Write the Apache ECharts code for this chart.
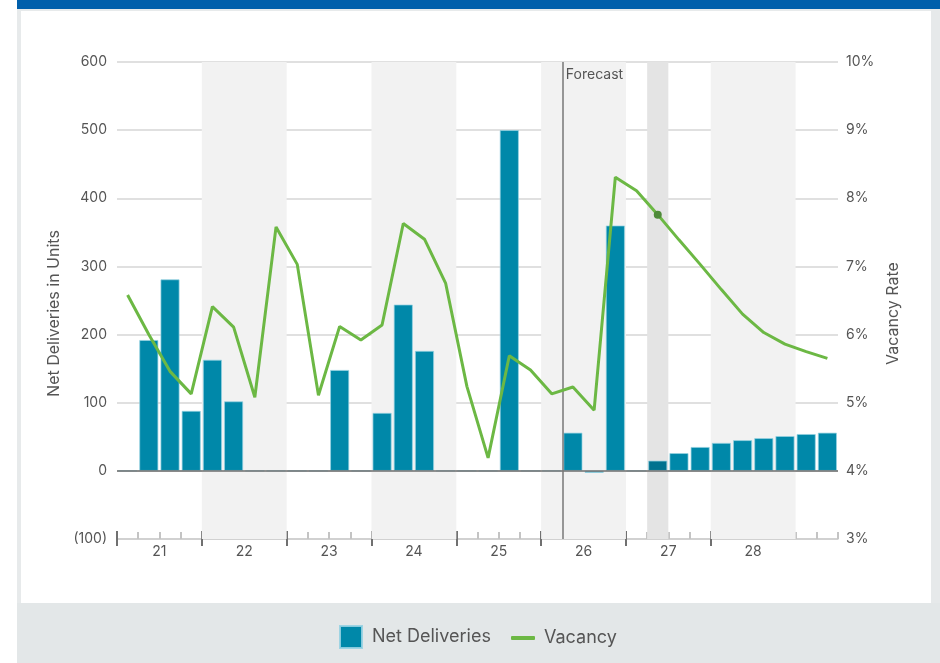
<!DOCTYPE html>
<html>
<head>
<meta charset="utf-8">
<script src="https://cdn.jsdelivr.net/npm/echarts@6/dist/echarts.min.js"></script>
<style>
  html, body { margin: 0; padding: 0; background: #ffffff; }
  #wrap { position: relative; width: 940px; height: 663px; overflow: hidden; }
  .deco { position: absolute; }
  #chart { position: absolute; left: 0; top: 0; width: 940px; height: 663px; }
</style>
</head>
<body>
<div id="wrap">
  <div class="deco" style="left:17px;top:0;width:923px;height:9px;background:#005fab;"></div>
  <div class="deco" style="left:17px;top:9px;width:923px;height:2px;background:#e7eaeb;"></div>
  <div class="deco" style="left:17px;top:9px;width:4px;height:594px;background:#e7eaeb;"></div>
  <div class="deco" style="left:931px;top:9px;width:9px;height:654px;background:#e6e9ea;"></div>
  <div class="deco" style="left:17px;top:603px;width:923px;height:60px;background:#e3e7e8;"></div>
  <div id="chart"></div>
</div>
<script>
// ---- data ----
const quarters = [
  '21 Q1','21 Q2','21 Q3','21 Q4',
  '22 Q1','22 Q2','22 Q3','22 Q4',
  '23 Q1','23 Q2','23 Q3','23 Q4',
  '24 Q1','24 Q2','24 Q3','24 Q4',
  '25 Q1','25 Q2','25 Q3','25 Q4',
  '26 Q1','26 Q2','26 Q3','26 Q4',
  '27 Q1','27 Q2','27 Q3','27 Q4',
  '28 Q1','28 Q2','28 Q3','28 Q4',
  '29 Q1','29 Q2'
];
const netDeliveries = [
  0, 192, 281, 88,
  163, 102, 0, 0,
  0, 0, 148, 0,
  85, 244, 176, 0,
  0, 0, 500, 0,
  0, 56, -3, 360,
  0, 15, 26, 35,
  41, 45, 48, 51,
  54, 56
];
const vacancy = [
  6.58, 6.00, 5.46, 5.13,
  6.41, 6.11, 5.08, 7.58,
  7.03, 5.11, 6.12, 5.92,
  6.14, 7.63, 7.40, 6.75,
  5.24, 4.19, 5.69, 5.48,
  5.13, 5.23, 4.89, 8.31,
  8.11, 7.76, 7.39, 7.03,
  6.66, 6.30, 6.03, 5.86,
  5.75, 5.65
];
const yearLabels = ['21','22','23','24','25','26','27','28'];
const shadedYears = ['22','24','26','28'];
const forecastStart = '26 Q2';
const currentQuarter = '27 Q2';
const leftTicks = [-100, 0, 100, 200, 300, 400, 500, 600];
const rightTicks = [3, 4, 5, 6, 7, 8, 9, 10];

// ---- derived ----
const nQ = quarters.length;
const firstIdxOfYear = y => quarters.findIndex(q => q.startsWith(y + ' '));
const yearBoundaries = yearLabels.map(firstIdxOfYear);
const yearCenters = yearLabels.map(y => firstIdxOfYear(y) + 2);
const forecastIdx = quarters.indexOf(forecastStart);
const currentIdx = quarters.indexOf(currentQuarter);
const leftMax = leftTicks[leftTicks.length - 1];

const FONT = 'Inter, Roboto, "Noto Sans", sans-serif';
const TXT = '#555555';
const BAR = '#0088a9';
const BAR_HI = '#00728f';
const GREEN = '#6cb844';

const bands = shadedYears.map(y => {
  const s = firstIdxOfYear(y);
  return [{ xAxis: s }, { xAxis: s + 4 }];
});
bands.push([{ xAxis: currentIdx, itemStyle: { color: '#e4e4e4' } }, { xAxis: currentIdx + 1 }]);

const chart = echarts.init(document.getElementById('chart'), null, { renderer: 'canvas' });
const option = {
  animation: false,
  textStyle: { fontFamily: FONT },
  grid: { left: 117, right: 102, top: 62, bottom: 124, containLabel: false },
  legend: [
    {
      data: [{ name: 'Net Deliveries', icon: 'rect' }],
      left: 339, top: 625, padding: 0,
      itemWidth: 22, itemHeight: 22,
      selectedMode: false,
      textStyle: { fontSize: 18, color: TXT, fontFamily: FONT, padding: [0, 0, 0, 5] }
    },
    {
      data: [{ name: 'Vacancy', icon: 'roundRect' }],
      left: 511, top: 629, padding: 0,
      itemWidth: 24, itemHeight: 4,
      selectedMode: false,
      itemStyle: { color: GREEN },
      textStyle: { fontSize: 18, color: TXT, fontFamily: FONT, padding: [0, 0, 0, 4] }
    }
  ],
  xAxis: [
    {
      type: 'category',
      data: quarters,
      boundaryGap: true,
      axisLine: { onZero: false, lineStyle: { color: '#cccccc', width: 1.5 } },
      axisTick: { show: true, interval: 0, inside: true, length: 7, lineStyle: { color: '#c4c4c4', width: 2 } },
      axisLabel: { show: false },
      splitLine: { show: false }
    },
    {
      type: 'value',
      min: 0, max: nQ,
      position: 'bottom',
      offset: -8,
      axisLine: { show: false, onZero: false },
      axisTick: { show: true, length: 15, customValues: yearBoundaries, lineStyle: { color: '#707070', width: 2 } },
      axisLabel: {
        show: true, customValues: yearCenters, margin: 14,
        fontSize: 14, color: TXT, fontFamily: FONT,
        formatter: v => yearLabels[yearCenters.indexOf(Math.round(v))] || ''
      },
      splitLine: { show: false }
    }
  ],
  yAxis: [
    {
      type: 'value',
      min: leftTicks[0], max: leftMax, interval: 100,
      name: 'Net Deliveries in Units',
      nameLocation: 'middle', nameGap: 48,
      nameTextStyle: { fontSize: 16, color: TXT, fontFamily: FONT, padding: [0, 26, 0, 0] },
      axisLine: { show: false },
      axisTick: { show: false },
      axisLabel: {
        margin: 10, fontSize: 14, color: TXT, fontFamily: FONT,
        formatter: v => v < 0 ? '(' + (-v) + ')' : String(v)
      },
      splitLine: { show: true, lineStyle: { color: '#d6d6d6', width: 1.5 } }
    },
    {
      type: 'value',
      min: rightTicks[0], max: rightTicks[rightTicks.length - 1], interval: 1,
      position: 'right',
      name: 'Vacancy Rate',
      nameLocation: 'middle', nameGap: 46,
      nameTextStyle: { fontSize: 16, color: TXT, fontFamily: FONT, padding: [0, 26, 0, 0] },
      axisLine: { show: false },
      axisTick: { show: false },
      axisLabel: { margin: 8, fontSize: 14, color: TXT, fontFamily: FONT, formatter: v => v + '%' },
      splitLine: { show: false }
    }
  ],
  series: [
    {
      name: 'bands',
      type: 'line',
      xAxisIndex: 1, yAxisIndex: 0,
      data: [],
      z: -1,
      silent: true,
      markArea: {
        silent: true,
        itemStyle: { color: '#f2f2f2' },
        data: bands
      }
    },
    {
      name: 'Net Deliveries',
      type: 'bar',
      xAxisIndex: 0, yAxisIndex: 0,
      barWidth: 19,
      itemStyle: { color: BAR, borderColor: 'rgba(150,210,226,0.9)', borderWidth: 0.8 },
      data: netDeliveries.map((v, i) => i === currentIdx ? { value: v, itemStyle: { color: BAR_HI } } : v),
      emphasis: { disabled: true },
      markLine: {
        silent: true,
        symbol: 'none',
        label: { show: false },
        lineStyle: { color: '#6e6e6e', type: 'solid', width: 1.5 },
        data: [{ yAxis: 0 }]
      },
      z: 2
    },
    {
      name: 'forecast',
      type: 'line',
      xAxisIndex: 1, yAxisIndex: 0,
      data: [],
      silent: true,
      z: 3,
      markLine: {
        silent: true,
        symbol: 'none',
        label: { show: false },
        lineStyle: { color: '#777777', type: 'solid', width: 1.5 },
        data: [{ xAxis: forecastIdx }]
      },
      markPoint: {
        silent: true,
        data: [{
          coord: [forecastIdx, leftMax],
          symbol: 'rect',
          symbolSize: 1,
          itemStyle: { color: 'rgba(0,0,0,0)' },
          label: {
            show: true,
            formatter: 'Forecast',
            position: [4, 6],
            align: 'left',
            verticalAlign: 'top',
            fontSize: 14,
            color: TXT,
            fontFamily: FONT
          }
        }]
      }
    },
    {
      name: 'Vacancy',
      type: 'line',
      xAxisIndex: 0, yAxisIndex: 1,
      symbol: 'none',
      lineStyle: { color: GREEN, width: 3 },
      itemStyle: { color: GREEN },
      data: vacancy.map((v, i) => i === currentIdx
        ? { value: v, symbol: 'circle', symbolSize: 8, itemStyle: { color: '#4f8a3a' } }
        : v),
      emphasis: { disabled: true },
      z: 5
    }
  ]
};
chart.setOption(option);
</script>
</body>
</html>
